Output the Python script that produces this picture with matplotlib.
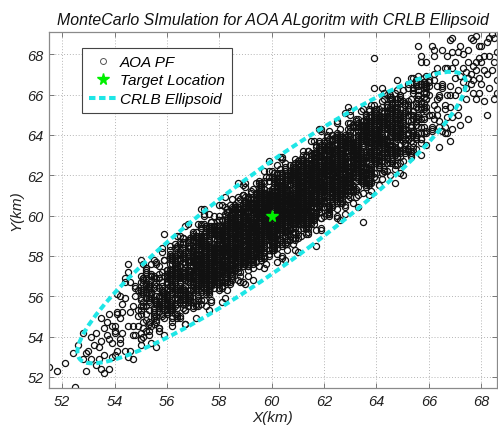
import numpy as np
import matplotlib
matplotlib.use('Agg')
import matplotlib.pyplot as plt
from matplotlib.patches import Ellipse
from matplotlib.lines import Line2D

# AOA particle-filter position estimates as (x, y) pairs, in tenths of km
# outer / sparse part of the cloud
pf_outer_xy_tenths = [
    515,525, 518,523, 525,515, 524,532, 528,542, 529,523, 528,529, 526,536, 521,527, 529,532,
    530,533, 531,529, 534,529, 535,524, 538,524, 536,522, 538,539, 539,537, 537,541, 533,542,
    535,549, 537,547, 532,536, 534,535, 536,531, 539,545, 531,540, 538,551, 535,538, 533,526,
    539,530, 536,544,
    543,552, 547,545, 541,561, 549,553, 545,572, 540,531, 548,560, 542,537, 546,552, 544,559,
    546,533, 542,560, 549,550, 544,567, 540,545, 547,529, 543,556, 548,541, 541,551, 545,545,
    548,565, 540,543, 545,576, 542,539, 547,555, 544,533, 549,563, 541,533, 546,567, 543,542,
    542,549, 545,530, 548,564, 540,542, 544,569, 547,541, 541,552, 549,545,
    553,557, 557,575, 551,540, 559,570, 555,558, 550,578, 558,555, 552,566, 556,535, 554,562,
    556,556, 552,573, 559,553, 554,559, 550,567, 557,544, 553,565, 558,560, 551,576, 555,551,
    558,567, 550,542, 555,554, 552,567, 557,564, 554,537, 559,578, 551,555, 556,569, 553,543,
    552,562, 555,578, 558,556, 550,551, 554,570, 557,552, 551,557, 559,591, 553,546, 556,567,
    550,536, 554,562, 557,554, 551,569, 559,562, 555,569, 552,543, 558,563, 556,577, 553,553,
    559,541, 551,563, 553,547, 556,565, 558,584, 552,551, 555,570, 557,559, 550,539, 554,571,
    563,569, 567,562, 561,580, 569,572, 565,549, 560,569, 568,580, 562,553, 566,571, 564,561,
    566,589, 562,562, 569,584, 564,551, 560,570, 567,561, 563,570, 568,596, 561,563, 565,557,
    568,581, 560,558, 565,583, 562,566, 567,546, 564,575, 569,558, 561,569, 566,587, 563,559,
    562,568, 565,558, 568,582, 560,561, 564,590, 567,553, 561,570, 569,572, 563,580, 566,561,
    560,560, 564,574, 567,568, 561,573, 569,559, 565,571, 562,545, 568,587, 566,564, 563,578,
    569,573, 561,556, 563,586, 566,558, 568,577, 562,549, 565,570, 567,595, 560,557, 564,581,
    565,565, 568,578, 562,555, 560,567, 567,546, 563,576, 569,571, 564,585, 561,557, 566,584,
    567,556, 563,574, 560,563, 565,590, 569,563, 561,569, 564,549, 568,584, 562,561, 566,580,
    564,569, 569,560, 561,581, 565,563, 560,566,
    574,600, 578,573, 570,582, 576,553, 572,578, 579,577, 575,594, 571,563, 577,580, 573,588,
    571,556, 575,585, 579,579, 573,596, 577,571, 570,577, 576,566, 572,569, 578,591, 574,579,
    577,558, 572,589, 574,576, 570,581, 579,567, 576,584, 573,594, 578,574, 575,574, 571,585,
    570,563, 579,583, 573,603, 577,568, 575,584, 571,555, 578,584, 574,569, 572,588, 576,577,
    576,588, 573,562, 578,581, 571,590, 574,572, 577,557, 570,580, 575,567, 579,586, 572,596,
    574,571, 578,591, 570,570, 576,563, 572,587, 579,584, 575,569, 571,589, 577,579, 573,556,
    571,579, 575,586, 579,569, 573,577, 577,573, 570,592, 576,575, 572,586, 578,564, 574,583,
    577,570, 572,578, 574,601, 570,571, 579,570, 576,588, 573,570, 578,595, 575,578, 571,549,
    570,580, 579,567, 573,580, 577,597, 575,570, 571,576, 578,570, 574,587, 572,572, 576,601,
    576,561, 573,581, 578,580, 571,587, 574,568, 577,576, 570,579, 575,555, 579,590, 572,566,
    574,603, 578,578, 570,578, 576,563, 572,586, 579,582, 575,566, 571,592, 577,573, 573,579,
    584,592, 588,586, 580,573, 586,601, 582,583, 589,596, 585,569, 581,605, 587,586, 583,595,
    581,572, 585,589, 589,583, 583,602, 587,593, 580,567, 586,595, 582,559, 588,590, 584,600,
    587,583, 582,593, 584,574, 580,580, 589,615, 586,591, 583,575, 588,596, 585,570, 581,594,
    580,578, 589,610, 583,578, 587,590, 585,574, 581,591, 588,595, 584,566, 582,583, 586,603,
    586,579, 583,587, 588,602, 581,567, 584,583, 587,599, 580,576, 585,608, 589,595, 582,573,
    584,593, 588,567, 580,577, 586,604, 582,584, 589,577, 585,596, 581,581, 587,602, 583,577,
    581,586, 585,568, 589,597, 583,573, 587,616, 580,583, 586,578, 582,595, 588,586, 584,579,
    587,607, 582,589, 584,571, 580,590, 589,590, 586,602, 583,563, 588,592, 585,597, 581,577,
    580,569, 589,595, 583,576, 587,609, 585,584, 581,590, 588,572, 584,598, 582,584, 586,577,
    586,604, 583,580, 588,593, 581,557, 584,595, 587,581, 580,605, 585,585, 589,597, 582,568,
    584,599, 588,589, 580,572, 586,593, 582,572, 589,610, 585,583, 581,593, 587,568, 583,586,
    581,576, 585,602, 589,577, 583,593, 587,572, 580,584, 586,579, 582,609, 588,587, 584,597,
    587,583, 582,588, 584,573, 580,589, 589,567, 586,587, 583,602, 588,585, 585,599, 581,564,
    590,594, 599,592, 593,608, 597,596, 595,617, 591,577, 598,605, 594,584, 592,593, 596,606,
    596,578, 593,606, 598,594, 591,609, 594,594, 597,574, 590,598, 595,583, 599,604, 592,587,
    594,606, 598,596, 590,616, 596,588, 592,595, 599,583, 595,604, 591,578, 597,613, 593,587,
    591,593, 595,575, 599,610, 593,590, 597,617, 590,579, 596,602, 592,583, 598,598, 594,608,
    597,582, 592,599, 594,593, 590,614, 599,592, 596,606, 593,568, 598,602, 595,591, 591,608,
    590,580, 599,600, 593,606, 597,580, 595,603, 591,589, 598,619, 594,586, 592,597, 596,584,
    596,591, 593,604, 598,601, 591,570, 594,609, 597,597, 590,599, 595,581, 599,605, 592,611,
    594,588, 598,595, 590,602, 596,587, 592,594, 599,627, 595,584, 591,598, 597,579, 593,597,
    591,584, 595,609, 599,598, 593,603, 597,584, 590,591, 596,613, 592,588, 598,576, 594,602,
    597,587, 592,597, 594,616, 590,585, 599,610, 596,594, 593,578, 598,611, 595,598, 591,583,
    590,606, 599,599, 593,574, 597,603, 595,604, 591,579, 598,600, 594,588, 592,612, 596,593,
    596,608, 593,577, 598,605, 591,582, 594,598, 597,622, 590,589, 595,584, 599,609, 592,587,
    594,609, 598,599, 590,566, 596,604, 592,578, 599,604, 595,613, 591,584, 597,600, 593,583,
    591,602, 595,593, 599,622, 593,576, 597,603, 590,590, 596,610, 592,584, 598,595, 594,601,
    607,601, 602,606, 604,613, 600,587, 609,610, 606,601, 603,621, 608,586, 605,608, 601,591,
    600,611, 609,607, 603,611, 607,590, 605,601, 601,616, 608,601, 604,629, 602,602, 606,592,
    606,612, 603,594, 608,620, 601,603, 604,580, 607,604, 600,610, 605,599, 609,626, 602,591,
    604,608, 608,589, 600,607, 606,605, 602,615, 609,601, 605,600, 601,621, 607,608, 603,588,
    601,610, 605,603, 609,597, 603,619, 607,610, 600,590, 606,612, 602,581, 608,604, 604,615,
    607,600, 602,625, 604,609, 600,584, 609,609, 606,620, 603,594, 608,610, 605,592, 601,609,
    600,597, 609,628, 603,597, 607,619, 605,578, 601,600, 608,618, 604,593, 602,606, 606,613,
    606,588, 603,598, 608,623, 601,593, 604,605, 607,593, 600,622, 605,603, 609,599, 602,608,
    604,617, 608,604, 600,609, 606,586, 602,605, 609,602, 605,623, 601,589, 607,607, 603,614,
    601,585, 605,610, 609,606, 603,629, 607,598, 600,608, 606,583, 602,604, 608,602, 604,620,
    607,594, 602,603, 604,614, 600,595, 609,621, 606,587, 603,607, 608,598, 605,626, 601,600,
    600,607, 609,594, 603,617, 607,599, 605,622, 601,599, 608,617, 604,579, 602,605, 606,595,
    606,612, 603,599, 608,621, 601,594, 604,628, 607,608, 600,583, 605,610, 609,597, 602,621,
    604,595, 608,608, 600,611, 606,600, 602,617, 609,588, 605,607, 601,587, 607,615, 603,600,
    616,612, 613,620, 618,603, 611,612, 614,592, 617,631, 610,603, 615,625, 619,618, 612,602,
    614,632, 618,605, 610,614, 616,598, 612,612, 619,642, 615,607, 611,623, 617,612, 613,618,
    611,599, 615,617, 619,593, 613,621, 617,614, 610,626, 616,607, 612,625, 618,602, 614,620,
    617,615, 612,632, 614,603, 610,613, 619,599, 616,627, 613,607, 618,627, 615,615, 611,597,
    610,625, 619,612, 613,614, 617,593, 615,622, 611,601, 618,643, 614,610, 612,616, 616,599,
    616,626, 613,612, 618,605, 611,628, 614,606, 617,619, 610,589, 615,623, 619,614, 612,624,
    614,619, 618,607, 610,607, 616,637, 612,597, 619,619, 615,606, 611,625, 617,611, 613,594,
    611,617, 615,618, 619,607, 613,622, 617,615, 610,582, 616,627, 612,605, 618,636, 614,610,
    617,624, 612,598, 614,615, 610,600, 619,632, 616,615, 613,596, 618,622, 615,637, 611,603,
    610,620, 619,614, 613,591, 617,622, 615,604, 611,613, 618,633, 614,601, 612,609, 616,624,
    616,600, 613,613, 618,637, 611,605, 614,605, 617,629, 610,608, 615,621, 619,599, 612,615,
    614,602, 618,634, 610,603, 616,625, 612,608, 619,594, 615,616, 611,622, 617,607, 613,618,
    611,596, 615,614, 619,643, 613,605, 617,631, 610,605, 616,598, 612,619, 618,615, 614,624,
    617,606, 612,614, 614,591, 610,627, 619,613,
    621,625, 625,619, 629,618, 623,634, 627,624, 620,623, 626,606, 622,642, 628,623, 624,632,
    627,614, 622,622, 624,614, 620,635, 629,631, 626,609, 623,628, 628,601, 625,623, 621,633,
    620,612, 629,636, 623,609, 627,623, 625,647, 621,622, 628,616, 624,628, 622,603, 626,635,
    626,620, 623,640, 628,619, 621,620, 624,609, 627,633, 620,623, 625,603, 629,626, 622,635,
    624,613, 628,628, 620,630, 626,608, 622,617, 629,637, 625,617, 621,640, 627,629, 623,610,
    621,626, 625,600, 629,622, 623,637, 627,625, 620,604, 626,633, 622,618, 628,639, 624,614,
    627,628, 622,601, 624,628, 620,606, 629,654, 626,625, 623,611, 628,637, 625,619, 621,612,
    620,636, 629,632, 623,606, 627,633, 625,622, 621,633, 628,604, 624,624, 622,630, 626,618,
    626,611, 623,625, 628,617, 621,639, 624,619, 627,632, 620,600, 625,635, 629,627, 622,609,
    624,638, 628,621, 620,621, 626,598, 622,629, 629,619, 625,646, 621,617, 627,631, 623,605,
    621,632, 625,622, 629,617, 623,626, 627,613, 620,637, 626,620, 622,630, 628,605, 624,623,
    627,618, 622,635, 624,608, 620,626, 629,610, 626,626, 623,612, 628,651, 625,620, 621,630,
    620,612, 629,631, 623,608, 627,632, 625,599,
    630,630, 639,628, 633,644, 637,632, 635,653, 631,613, 638,641, 634,620, 632,629, 636,642,
    636,614, 633,642, 638,630, 631,645, 634,630, 637,610, 630,634, 635,619, 639,640, 632,623,
    634,642, 638,632, 630,652, 636,624, 632,631, 639,619, 635,640, 631,614, 637,649, 633,623,
    631,629, 635,611, 639,646, 633,626, 637,653, 630,615, 636,638, 632,619, 638,634, 634,644,
    637,618, 632,635, 634,629, 630,650, 639,628, 636,642, 633,604, 638,638, 635,627, 631,644,
    630,616, 639,636, 633,642, 637,616, 635,639, 631,625, 638,655, 634,622, 632,633, 636,620,
    636,627, 633,640, 638,637, 631,606, 634,645, 637,633, 630,635, 635,617, 639,641, 632,647,
    634,624, 638,631, 630,638, 636,623, 632,630, 639,663, 635,620, 631,634, 637,615, 633,633,
    631,620, 635,645, 639,634, 633,639, 637,620, 630,627, 636,649, 632,624, 638,612, 634,638,
    637,623, 632,633, 634,652, 630,621, 639,646, 636,630, 633,614, 638,647, 635,634, 631,619,
    630,642, 639,635, 633,610, 637,639, 635,640, 631,615, 638,636, 634,624, 632,648, 636,629,
    644,634, 648,648, 640,645, 646,629, 642,639, 649,640, 645,659, 641,615, 647,646, 643,629,
    641,648, 645,639, 649,653, 643,622, 647,639, 640,651, 646,635, 642,663, 648,644, 644,626,
    647,649, 642,629, 644,652, 640,638, 649,621, 646,639, 643,649, 648,638, 645,658, 641,626,
    640,640, 649,626, 643,646, 647,642, 645,654, 641,629, 648,639, 644,660, 642,639, 646,627,
    646,651, 643,637, 648,632, 641,653, 644,643, 647,633, 640,642, 645,620, 649,641, 642,649,
    644,633, 648,667, 640,641, 646,626, 642,638, 649,659, 645,632, 641,639, 647,630, 643,647,
    641,634, 645,660, 649,639, 643,651, 647,616, 640,635, 646,652, 642,627, 648,648, 644,647,
    647,625, 642,633, 644,655, 640,628, 649,646, 646,628, 643,661, 648,642, 645,631, 641,643,
    640,649, 649,641, 643,648, 647,623, 645,644, 641,630, 648,662, 644,628, 642,638, 646,653,
    656,662, 653,631, 658,659, 651,636, 654,652, 657,676, 650,643, 655,638, 659,663, 652,641,
    654,663, 658,653, 650,620, 656,658, 652,632, 659,658, 655,667, 651,638, 657,654, 653,637,
    651,656, 655,647, 659,676, 653,630, 657,657, 650,644, 656,664, 652,638, 658,649, 654,655,
    657,641, 652,647, 654,661, 650,627, 659,661, 656,648, 653,668, 658,644, 655,654, 651,633,
    650,639, 659,664, 653,650, 657,630, 655,664, 651,645, 658,661, 654,634, 652,652, 656,669,
    656,644, 653,644, 658,664, 651,636, 654,650, 657,679, 650,633, 655,656, 659,635, 652,650,
    654,641, 658,666, 650,643, 656,660, 652,633,
    661,642, 665,664, 669,688, 663,650, 667,673, 660,650, 666,641, 662,670, 668,664, 664,647,
    667,679, 662,655, 664,634, 660,660, 669,673, 666,644, 663,658, 668,654, 665,682, 661,650,
    660,667, 669,643, 663,664, 667,649, 665,663, 661,684, 668,660, 664,644, 662,667, 666,653,
    666,673, 663,653, 668,687, 661,644, 664,660, 667,641, 660,664, 665,642, 669,681, 662,648,
    664,659, 668,637, 660,666, 666,655, 662,679, 669,649, 665,665, 661,643, 667,660, 663,673,
    678,689, 677,687, 678,672, 679,668, 677,661, 671,654, 671,650, 673,680, 675,676, 672,669,
    674,663, 676,670, 670,676, 672,684, 674,658, 676,665, 679,678, 673,673, 675,682, 677,667,
    670,668, 671,662, 678,658, 675,648, 672,645, 679,684, 676,688, 674,671, 670,660, 678,676,
    673,666, 677,674, 671,681, 679,661, 675,668,
    682,686, 683,663, 685,658, 681,679, 684,672, 686,681, 682,670, 680,665, 685,676, 683,688,
    681,657, 686,667, 680,684, 684,690, 682,650, 685,688, 681,672, 683,679, 686,661, 680,676,
    639,678, 656,684, 662,682, 635,597, 617,585, 609,583, 602,577,
]

# dense core of the cloud (narrow band)
pf_core_xy_tenths = [
    552,559, 557,555, 554,570, 559,561, 550,570, 555,550, 551,561, 558,562, 553,566, 556,548,
    558,563, 553,564, 556,556, 551,568, 559,556, 554,562, 550,539, 557,571, 552,555, 555,564,
    555,549, 550,562, 559,560, 552,574, 557,556, 553,559, 558,554, 551,569, 556,560, 554,545,
    551,566, 556,558, 553,563, 558,551, 554,561, 559,578, 555,553, 550,555, 557,544, 552,565,
    559,559, 554,570, 550,553, 555,566, 552,548, 558,582, 556,557, 553,561, 551,544, 557,569,
    562,565, 567,577, 564,559, 569,588, 560,560, 565,570, 561,553, 568,580, 563,551, 566,573,
    568,582, 563,562, 566,570, 561,572, 569,560, 564,572, 560,556, 567,582, 562,564, 565,586,
    565,563, 560,566, 569,563, 562,571, 567,568, 563,580, 568,557, 561,573, 566,569, 564,574,
    561,554, 566,579, 563,563, 568,573, 564,550, 569,585, 565,562, 560,567, 567,562, 562,580,
    569,577, 564,554, 560,571, 565,567, 562,576, 568,567, 566,586, 563,555, 561,565, 567,576,
    568,570, 563,574, 566,559, 561,568, 569,558, 564,578, 560,559, 567,572, 562,558, 565,582,
    565,569, 560,558, 569,578, 562,554, 567,579, 563,564, 568,588, 561,556, 566,572, 564,564,
    561,576, 566,563, 563,571, 568,555, 564,574, 569,572, 565,578, 560,551, 567,572, 562,580,
    569,563, 564,571, 560,559, 565,581, 562,564, 568,558, 566,577, 563,567, 561,583, 567,563,
    562,571, 567,560, 564,570, 569,567, 560,573, 565,550, 561,569, 568,569, 563,579, 566,563,
    575,580, 570,566, 579,593, 572,572, 577,595, 573,566, 578,586, 571,573, 576,587, 574,564,
    571,574, 576,585, 573,571, 578,593, 574,569, 579,585, 575,562, 570,582, 577,578, 572,579,
    579,571, 574,584, 570,569, 575,595, 572,569, 578,582, 576,570, 573,589, 571,573, 577,566,
    572,585, 577,577, 574,582, 579,570, 570,575, 575,592, 571,567, 578,581, 573,558, 576,587,
    578,576, 573,587, 576,577, 571,580, 579,573, 574,596, 570,569, 577,583, 572,563, 575,585,
    575,579, 570,567, 579,591, 572,560, 577,584, 573,575, 578,593, 571,566, 576,595, 574,574,
    571,564, 576,584, 573,576, 578,574, 574,590, 579,578, 575,586, 570,562, 577,582, 572,558,
    579,588, 574,575, 570,583, 575,573, 572,578, 578,568, 576,594, 573,568, 571,575, 577,574,
    572,586, 577,571, 574,581, 579,581, 570,591, 575,566, 571,581, 578,578, 573,585, 576,565,
    578,577, 573,590, 576,572, 571,576, 579,572, 574,582, 570,557, 577,592, 572,575, 575,573,
    575,576, 570,580, 579,571, 572,578, 577,565, 573,586, 578,576, 571,575, 576,571, 574,590,
    571,574, 576,573, 573,581, 578,569, 574,585, 579,579, 575,594, 570,564, 577,582, 572,571,
    579,593, 574,570, 570,577, 575,561, 572,581, 578,580, 576,588, 573,563, 571,575, 577,594,
    572,565, 577,583, 574,572, 579,594, 570,571, 575,564, 571,581, 578,581, 573,594, 576,571,
    578,586, 573,565, 576,581, 571,568, 579,591, 574,558, 570,577, 577,577, 572,587, 575,571,
    575,577, 570,579, 579,573, 572,590, 577,576, 573,577, 578,569, 571,582, 576,563, 574,580,
    581,593, 586,583, 583,585, 588,597, 584,573, 589,595, 585,579, 580,593, 587,587, 582,601,
    589,585, 584,588, 580,572, 585,592, 582,581, 588,603, 586,573, 583,593, 581,582, 587,595,
    582,573, 587,598, 584,582, 589,592, 580,564, 585,599, 581,576, 588,593, 583,576, 586,602,
    588,594, 583,571, 586,595, 581,581, 589,601, 584,581, 580,598, 587,577, 582,584, 585,592,
    585,589, 580,575, 589,602, 582,581, 587,604, 583,575, 588,595, 581,582, 586,596, 584,573,
    581,583, 586,594, 583,580, 588,602, 584,578, 589,594, 585,571, 580,591, 587,587, 582,588,
    589,580, 584,593, 580,578, 585,604, 582,578, 588,591, 586,579, 583,598, 581,582, 587,575,
    582,594, 587,586, 584,591, 589,579, 580,584, 585,601, 581,576, 588,590, 583,567, 586,596,
    588,585, 583,596, 586,586, 581,589, 589,582, 584,605, 580,578, 587,592, 582,572, 585,594,
    585,588, 580,576, 589,600, 582,569, 587,593, 583,584, 588,602, 581,575, 586,604, 584,583,
    581,573, 586,593, 583,585, 588,583, 584,599, 589,587, 585,595, 580,571, 587,591, 582,567,
    589,597, 584,584, 580,592, 585,582, 582,587, 588,577, 586,603, 583,577, 581,584, 587,583,
    582,595, 587,580, 584,590, 589,590, 580,600, 585,575, 581,590, 588,587, 583,594, 586,574,
    588,586, 583,599, 586,581, 581,585, 589,581, 584,591, 580,566, 587,601, 582,584, 585,582,
    585,585, 580,589, 589,580, 582,587, 587,574, 583,595, 588,585, 581,584, 586,580, 584,599,
    581,583, 586,582, 583,590, 588,578, 584,594, 589,588, 585,603, 580,573, 587,591, 582,580,
    589,602, 584,579, 580,586, 585,570, 582,590, 588,589, 586,597, 583,572, 581,584, 587,603,
    582,574, 587,592, 584,581, 589,603, 580,580, 585,573, 581,590, 588,590, 583,603, 586,580,
    588,595, 583,574, 586,590, 581,577, 589,600, 584,567, 580,586, 587,586, 582,596, 585,580,
    599,602, 594,588, 590,602, 595,593, 592,608, 598,589, 596,602, 593,593, 591,600, 597,585,
    592,593, 597,604, 594,590, 599,612, 590,583, 595,599, 591,576, 598,608, 593,592, 596,601,
    598,588, 593,601, 596,593, 591,609, 599,594, 594,596, 590,582, 597,611, 592,592, 595,582,
    595,606, 590,588, 599,605, 592,581, 597,600, 593,608, 598,592, 591,592, 596,579, 594,603,
    591,587, 596,608, 593,592, 598,605, 594,586, 599,619, 595,592, 590,594, 597,586, 592,600,
    599,601, 594,589, 590,600, 595,581, 592,597, 598,598, 596,609, 593,586, 591,608, 597,595,
    592,583, 597,603, 594,595, 599,593, 590,604, 595,592, 591,600, 598,588, 593,596, 596,580,
    598,605, 593,592, 596,607, 591,587, 599,603, 594,582, 590,606, 597,590, 592,594, 595,590,
    595,607, 590,582, 599,604, 592,592, 597,616, 593,582, 598,606, 591,589, 596,606, 594,581,
    591,588, 596,611, 593,587, 598,601, 594,585, 599,605, 595,580, 590,603, 597,598, 592,588,
    599,598, 594,602, 590,580, 595,599, 592,578, 598,609, 596,592, 593,595, 591,584, 597,611,
    592,593, 597,592, 594,600, 599,588, 590,599, 595,593, 591,608, 598,590, 593,596, 596,593,
    598,610, 593,587, 596,601, 591,575, 599,606, 594,594, 590,600, 597,585, 592,594, 595,610,
    595,586, 590,594, 599,595, 592,605, 597,596, 593,580, 598,606, 591,592, 596,615, 594,587,
    591,597, 596,586, 593,596, 598,593, 594,604, 599,581, 595,600, 590,588, 597,610, 592,586,
    599,599, 594,601, 590,582, 595,611, 592,589, 598,600, 596,585, 593,602, 591,576, 597,601,
    592,603, 597,593, 594,595, 599,607, 590,578, 595,600, 591,584, 598,610, 593,592, 596,614,
    598,593, 593,596, 596,587, 591,597, 599,597, 594,608, 590,576, 597,606, 592,592, 595,602,
    595,585, 590,600, 599,596, 592,594, 597,580, 593,606, 598,592, 591,595, 596,588, 594,609,
    591,596, 596,583, 593,601, 598,597, 594,605, 599,595, 595,612, 590,579, 597,598, 592,598,
    608,606, 603,610, 606,595, 601,604, 609,594, 604,614, 600,595, 607,608, 602,594, 605,618,
    605,605, 600,594, 609,614, 602,590, 607,615, 603,600, 608,624, 601,592, 606,608, 604,600,
    601,612, 606,599, 603,607, 608,591, 604,610, 609,608, 605,614, 600,587, 607,608, 602,616,
    609,599, 604,607, 600,595, 605,617, 602,600, 608,594, 606,613, 603,603, 601,619, 607,599,
    602,607, 607,596, 604,606, 609,603, 600,609, 605,586, 601,605, 608,605, 603,615, 606,599,
    608,607, 603,609, 606,597, 601,616, 609,605, 604,605, 600,588, 607,615, 602,586, 605,608,
    605,615, 600,595, 609,609, 602,609, 607,594, 603,607, 608,600, 601,612, 606,604, 604,621,
    601,595, 606,608, 603,593, 608,613, 604,601, 609,622, 605,590, 600,608, 607,606, 602,608,
    609,598, 604,613, 600,596, 605,606, 602,584, 608,620, 606,599, 603,606, 601,592, 607,621,
    602,606, 607,593, 604,611, 609,607, 600,610, 605,600, 601,617, 608,596, 603,603, 606,611,
    608,610, 603,596, 606,617, 601,598, 609,624, 604,594, 600,605, 607,606, 602,610, 605,592,
    605,605, 600,606, 609,604, 602,614, 607,599, 603,606, 608,592, 601,610, 606,604, 604,608,
    601,590, 606,613, 603,599, 608,625, 604,598, 609,610, 605,596, 600,613, 607,606, 602,588,
    609,619, 604,601, 600,605, 605,593, 602,604, 608,622, 606,599, 603,603, 601,583, 607,615,
    602,597, 607,618, 604,602, 609,615, 600,591, 605,624, 601,597, 608,611, 603,591, 606,613,
    608,609, 603,597, 606,615, 601,586, 609,613, 604,603, 600,612, 607,599, 602,618, 605,602,
    605,595, 600,605, 609,609, 602,595, 607,620, 603,599, 608,616, 601,590, 606,608, 604,587,
    601,607, 606,604, 603,613, 608,603, 604,607, 609,596, 605,620, 600,592, 607,608, 602,596,
    609,620, 604,595, 600,604, 605,604, 602,620, 608,596, 606,613, 603,600, 601,610, 607,593,
    602,598, 607,621, 604,597, 609,611, 600,590, 605,610, 601,585, 608,620, 603,603, 606,601,
    615,616, 610,602, 619,629, 612,608, 617,631, 613,602, 618,622, 611,609, 616,623, 614,600,
    611,610, 616,621, 613,607, 618,629, 614,605, 619,621, 615,598, 610,618, 617,614, 612,615,
    619,607, 614,620, 610,605, 615,631, 612,605, 618,618, 616,606, 613,625, 611,609, 617,602,
    612,621, 617,613, 614,618, 619,606, 610,611, 615,628, 611,603, 618,617, 613,594, 616,623,
    618,612, 613,623, 616,613, 611,616, 619,609, 614,632, 610,605, 617,619, 612,599, 615,621,
    615,615, 610,603, 619,627, 612,596, 617,620, 613,611, 618,629, 611,602, 616,631, 614,610,
    611,600, 616,620, 613,612, 618,610, 614,626, 619,614, 615,622, 610,598, 617,618, 612,594,
    619,624, 614,611, 610,619, 615,609, 612,614, 618,604, 616,630, 613,604, 611,611, 617,610,
    612,622, 617,607, 614,617, 619,617, 610,627, 615,602, 611,617, 618,614, 613,621, 616,601,
    618,613, 613,626, 616,608, 611,612, 619,608, 614,618, 610,593, 617,628, 612,611, 615,609,
    615,612, 610,616, 619,607, 612,614, 617,601, 613,622, 618,612, 611,611, 616,607, 614,626,
    611,610, 616,609, 613,617, 618,605, 614,621, 619,615, 615,630, 610,600, 617,618, 612,607,
    619,629, 614,606, 610,613, 615,597, 612,617, 618,616, 616,624, 613,599, 611,611, 617,630,
    612,601, 617,619, 614,608, 619,630, 610,607, 615,600, 611,617, 618,617, 613,630, 616,607,
    618,622, 613,601, 616,617, 611,604, 619,627, 614,594, 610,613, 617,613, 612,623, 615,607,
    615,613, 610,615, 619,609, 612,626, 617,612, 613,613, 618,605, 611,618, 616,599, 614,616,
    611,620, 616,610, 613,612, 618,624, 614,600, 619,622, 615,606, 610,620, 617,614, 612,628,
    619,612, 614,615, 610,599, 615,619, 612,608, 618,630, 616,600, 613,620, 611,609, 617,622,
    612,600, 617,625, 614,609, 619,619, 610,591, 615,626, 611,603, 618,620, 613,603, 616,629,
    621,623, 626,610, 623,628, 628,624, 624,632, 629,622, 625,639, 620,606, 627,625, 622,625,
    629,616, 624,631, 620,614, 625,624, 622,602, 628,638, 626,617, 623,624, 621,610, 627,639,
    622,614, 627,627, 624,612, 629,632, 620,615, 625,636, 621,604, 628,634, 623,620, 626,630,
    628,636, 623,616, 626,624, 621,626, 629,614, 624,626, 620,610, 627,636, 622,618, 625,640,
    625,622, 620,624, 629,618, 622,635, 627,621, 623,622, 628,614, 621,627, 626,608, 624,625,
    621,624, 626,613, 623,623, 628,620, 624,631, 629,608, 625,627, 620,615, 627,637, 622,613,
    629,617, 624,625, 620,613, 625,635, 622,618, 628,612, 626,631, 623,621, 621,637, 627,617,
    622,631, 627,618, 624,626, 629,610, 620,624, 625,622, 621,628, 628,613, 623,622, 626,638,
    628,626, 623,615, 626,629, 621,607, 629,635, 624,619, 620,634, 627,616, 622,622, 625,619,
    625,621, 620,625, 629,616, 622,623, 627,610, 623,631, 628,621, 621,620, 626,616, 624,635,
    621,615, 626,638, 623,614, 628,628, 624,612, 629,632, 625,607, 620,630, 627,625, 622,615,
    629,638, 624,613, 620,622, 625,622, 622,638, 628,614, 626,631, 623,618, 621,628, 627,611,
    622,626, 627,623, 624,632, 629,622, 620,621, 625,610, 621,634, 628,618, 623,622, 626,618,
    628,616, 623,626, 626,624, 621,612, 629,640, 624,618, 620,626, 627,614, 622,622, 625,606,
    625,624, 620,612, 629,636, 622,605, 627,629, 623,620, 628,638, 621,611, 626,640, 624,619,
    621,614, 626,635, 623,619, 628,632, 624,613, 629,646, 625,619, 620,621, 627,613, 622,627,
    629,637, 624,619, 620,623, 625,611, 622,622, 628,640, 626,617, 623,621, 621,601, 627,633,
    639,638, 634,624, 630,638, 635,629, 632,644, 638,625, 636,638, 633,629, 631,636, 637,621,
    632,629, 637,640, 634,626, 639,648, 630,619, 635,635, 631,612, 638,644, 633,628, 636,637,
    638,624, 633,637, 636,629, 631,645, 639,630, 634,632, 630,618, 637,647, 632,628, 635,618,
    635,642, 630,624, 639,641, 632,617, 637,636, 633,644, 638,628, 631,628, 636,615, 634,639,
    631,623, 636,644, 633,628, 638,641, 634,622, 639,655, 635,628, 630,630, 637,622, 632,636,
    639,637, 634,625, 630,636, 635,617, 632,633, 638,634, 636,645, 633,622, 631,644, 637,631,
    632,619, 637,639, 634,631, 639,629, 630,640, 635,628, 631,636, 638,624, 633,632, 636,616,
    638,641, 633,628, 636,643, 631,623, 639,639, 634,618, 630,642, 637,626, 632,630, 635,626,
    635,643, 630,618, 639,640, 632,628, 637,652, 633,618, 638,642, 631,625, 636,642, 634,617,
    631,624, 636,647, 633,623, 638,637, 634,621, 639,641, 635,616, 630,639, 637,634, 632,624,
    639,635, 634,637, 630,618, 635,647, 632,625, 638,636, 636,621, 633,638, 631,612, 637,637,
    632,639, 637,629, 634,631, 639,643, 630,614, 635,636, 631,620, 638,646, 633,628, 636,650,
    638,629, 633,632, 636,623, 631,633, 639,633, 634,644, 630,612, 637,642, 632,628, 635,638,
    635,621, 630,636, 639,632, 632,630, 637,616, 633,642, 638,628, 631,631, 636,624, 634,645,
    642,636, 647,650, 644,629, 649,648, 640,621, 645,651, 641,632, 648,645, 643,631, 646,655,
    648,644, 643,633, 646,647, 641,625, 649,653, 644,637, 640,652, 647,634, 642,640, 645,637,
    645,652, 640,629, 649,649, 642,621, 647,649, 643,638, 648,653, 641,624, 646,643, 644,654,
    641,627, 646,645, 643,634, 648,656, 644,638, 649,631, 645,648, 640,636, 647,661, 642,630,
    649,650, 644,629, 640,638, 645,635, 642,647, 648,625, 646,646, 643,636, 641,649, 647,636,
    642,637, 647,649, 644,631, 649,660, 640,632, 645,642, 641,625, 648,652, 643,623, 646,645,
    648,654, 643,634, 646,642, 641,644, 649,632, 644,644, 640,628, 647,654, 642,636, 645,658,
    645,635, 640,638, 649,635, 642,643, 647,640, 643,652, 648,629, 641,645, 646,641, 644,646,
    641,626, 646,651, 643,635, 648,645, 644,622, 649,657, 645,634, 640,639, 647,634, 642,652,
    649,649, 644,626, 640,643, 645,639, 642,648, 648,639, 646,658, 643,627, 641,637, 647,648,
    658,654, 653,642, 656,660, 651,631, 659,658, 654,648, 650,657, 657,644, 652,663, 655,647,
    655,640, 650,650, 659,654, 652,640, 657,665, 653,644, 658,661, 651,635, 656,653, 654,632,
    651,652, 656,649, 653,658, 658,648, 654,652, 659,641, 655,665, 650,637, 657,653, 652,641,
    659,665, 654,640, 650,649, 655,649, 652,665, 658,641, 656,658, 653,645, 651,655, 657,638,
]

# dense core of the cloud (wider band)
pf_core_wide_xy_tenths = [
    550,558, 555,552, 552,571, 557,560, 554,570, 559,549, 551,562, 556,550, 553,558, 558,572,
    557,543, 552,569, 559,559, 554,576, 551,555, 556,547, 553,565, 558,550, 550,559, 555,554,
    554,570, 559,561, 556,576, 551,547, 558,565, 553,541, 550,563, 555,546, 552,572, 557,555,
    563,568, 568,561, 565,579, 560,560, 566,589, 561,553, 569,578, 564,558, 567,570, 562,579,
    566,554, 561,571, 568,570, 563,580, 560,556, 565,578, 562,550, 567,574, 569,568, 564,584,
    560,553, 565,569, 562,578, 567,553, 564,575, 569,570, 561,585, 566,561, 563,571, 568,559,
    567,565, 562,576, 569,575, 564,556, 561,579, 566,569, 563,575, 568,557, 560,569, 565,587,
    564,561, 569,569, 566,581, 561,555, 568,573, 563,584, 560,552, 565,575, 562,547, 567,574,
    563,559, 568,585, 565,567, 560,573, 566,556, 561,565, 569,589, 564,563, 567,558, 562,573,
    576,568, 571,578, 578,592, 573,570, 570,583, 575,575, 572,559, 577,592, 579,584, 574,568,
    570,588, 575,577, 572,555, 577,585, 574,585, 579,569, 571,575, 576,572, 573,595, 578,577,
    577,591, 572,558, 579,588, 574,567, 571,577, 576,593, 573,574, 578,569, 570,582, 575,572,
    574,591, 579,582, 576,564, 571,581, 578,566, 573,580, 570,590, 575,570, 572,577, 577,569,
    573,586, 578,578, 575,590, 570,555, 576,584, 571,573, 579,595, 574,568, 577,576, 572,581,
    576,582, 571,566, 578,595, 573,574, 570,584, 575,563, 572,581, 577,569, 579,582, 574,586,
    570,554, 575,590, 572,570, 577,597, 574,576, 579,568, 571,581, 576,566, 573,580, 578,575,
    577,591, 572,572, 579,597, 574,568, 571,576, 576,562, 573,584, 578,567, 570,588, 575,571,
    574,578, 579,571, 576,589, 571,570, 578,600, 573,564, 570,578, 575,568, 572,574, 577,593,
    583,569, 588,596, 585,585, 580,595, 586,580, 581,592, 589,575, 584,589, 587,584, 582,600,
    586,577, 581,583, 588,602, 583,567, 580,589, 585,584, 582,604, 587,580, 589,595, 584,573,
    580,576, 585,597, 582,586, 587,577, 584,600, 589,590, 581,591, 586,573, 583,590, 588,608,
    587,582, 582,580, 589,602, 584,576, 581,584, 586,605, 583,573, 588,596, 580,563, 585,590,
    584,578, 589,604, 586,586, 581,592, 588,576, 583,585, 580,598, 585,582, 582,571, 587,596,
    583,574, 588,594, 585,598, 580,576, 586,598, 581,580, 589,575, 584,598, 587,591, 582,575,
    586,603, 581,582, 588,570, 583,590, 580,590, 585,574, 582,585, 587,582, 589,610, 584,582,
    580,593, 585,570, 582,590, 587,579, 584,589, 589,605, 581,581, 586,576, 583,594, 588,584,
    587,603, 582,584, 589,576, 584,593, 581,568, 586,592, 583,602, 588,582, 580,584, 585,576,
    584,596, 589,588, 586,600, 581,565, 588,595, 583,584, 580,595, 585,578, 582,580, 587,595,
    583,582, 588,598, 585,573, 580,584, 586,577, 581,598, 589,585, 584,597, 587,589, 582,575,
    596,616, 591,580, 598,604, 593,577, 590,592, 595,610, 592,586, 597,611, 599,596, 594,601,
    590,580, 595,599, 592,578, 597,607, 594,593, 599,617, 591,584, 596,611, 593,579, 598,606,
    597,597, 592,604, 599,590, 594,599, 591,573, 596,609, 593,589, 598,609, 590,592, 595,583,
    594,611, 599,594, 596,599, 591,579, 598,607, 593,585, 590,607, 595,593, 592,598, 597,582,
    593,605, 598,599, 595,584, 590,609, 596,590, 591,595, 599,580, 594,604, 597,594, 592,606,
    596,603, 591,582, 598,597, 593,606, 590,577, 595,597, 592,585, 597,613, 599,595, 594,577,
    590,598, 595,600, 592,582, 597,608, 594,594, 599,583, 591,604, 596,591, 593,613, 598,596,
    597,606, 592,580, 599,602, 594,586, 591,606, 596,597, 593,578, 598,604, 590,604, 595,589,
    594,606, 599,596, 596,586, 591,598, 598,589, 593,597, 590,607, 595,584, 592,591, 597,607,
    593,579, 598,600, 595,616, 590,586, 596,589, 591,605, 599,599, 594,602, 597,579, 592,597,
    596,586, 591,609, 598,593, 593,604, 590,588, 595,582, 592,595, 597,610, 599,591, 594,601,
    590,577, 595,596, 592,608, 597,591, 594,610, 599,596, 591,575, 596,605, 593,592, 598,610,
    607,610, 602,594, 609,623, 604,602, 601,612, 606,591, 603,609, 608,597, 600,600, 605,614,
    604,585, 609,621, 606,601, 601,618, 608,607, 603,589, 600,607, 605,592, 602,606, 607,601,
    603,614, 608,605, 605,620, 600,591, 606,608, 601,584, 609,617, 604,590, 607,622, 602,595,
    606,607, 601,590, 608,618, 603,599, 600,619, 605,593, 602,607, 607,597, 609,608, 604,617,
    600,584, 605,611, 602,600, 607,620, 604,596, 609,618, 601,585, 606,609, 603,598, 608,624,
    607,596, 602,602, 609,621, 604,586, 601,608, 606,603, 603,623, 608,599, 600,604, 605,592,
    604,598, 609,619, 606,608, 601,589, 608,622, 603,602, 600,608, 605,590, 602,607, 607,625,
    603,596, 608,604, 605,616, 600,590, 606,607, 601,618, 609,597, 604,610, 607,588, 602,605,
    606,598, 601,614, 608,606, 603,612, 600,586, 605,605, 602,618, 607,602, 609,596, 604,611,
    600,589, 605,609, 602,613, 607,601, 604,614, 609,606, 601,585, 606,618, 603,605, 608,599,
    607,622, 602,601, 609,589, 604,609, 601,609, 606,593, 603,604, 608,601, 600,619, 605,601,
    604,615, 609,592, 606,612, 601,591, 608,611, 603,617, 600,598, 605,593, 602,611, 607,601,
    613,626, 618,617, 615,599, 610,616, 616,600, 611,614, 619,635, 614,605, 617,618, 612,600,
    616,625, 611,607, 618,629, 613,594, 610,614, 615,613, 612,624, 617,607, 619,614, 614,619,
    610,606, 615,622, 612,597, 617,618, 614,602, 619,633, 611,604, 616,626, 613,612, 618,608,
    617,635, 612,599, 619,623, 614,596, 611,611, 616,629, 613,605, 618,630, 610,605, 615,620,
    614,602, 619,621, 616,600, 611,619, 618,615, 613,629, 610,601, 615,628, 612,596, 617,623,
    613,611, 618,628, 615,604, 610,613, 616,596, 611,622, 619,613, 614,623, 617,617, 612,598,
    616,631, 611,604, 618,619, 613,599, 610,617, 615,605, 612,627, 617,613, 619,623, 614,597,
    610,620, 615,614, 612,599, 617,634, 614,606, 619,621, 611,590, 616,624, 613,608, 618,630,
    617,622, 612,601, 619,616, 614,625, 611,596, 616,616, 613,604, 618,632, 610,604, 615,596,
    614,620, 619,622, 616,604, 611,620, 618,616, 613,595, 610,621, 615,608, 612,630, 617,613,
    613,620, 618,604, 615,616, 610,600, 616,629, 611,610, 619,602, 614,618, 617,629, 612,604,
    616,626, 611,606, 618,606, 613,618, 610,599, 615,617, 612,627, 617,604, 619,616, 614,622,
    620,621, 625,615, 622,634, 627,623, 624,633, 629,612, 621,625, 626,613, 623,621, 628,635,
    627,606, 622,632, 629,622, 624,639, 621,618, 626,610, 623,628, 628,613, 620,622, 625,617,
    624,633, 629,624, 626,639, 621,610, 628,628, 623,604, 620,626, 625,609, 622,635, 627,618,
    623,622, 628,615, 625,633, 620,614, 626,643, 621,607, 629,632, 624,612, 627,624, 622,633,
    626,608, 621,625, 628,624, 623,634, 620,610, 625,632, 622,604, 627,628, 629,622, 624,638,
    620,607, 625,623, 622,632, 627,607, 624,629, 629,624, 621,639, 626,615, 623,625, 628,613,
    627,619, 622,630, 629,629, 624,610, 621,633, 626,623, 623,629, 628,611, 620,623, 625,641,
    624,615, 629,623, 626,635, 621,609, 628,627, 623,638, 620,606, 625,629, 622,601, 627,628,
    623,613, 628,639, 625,621, 620,627, 626,610, 621,619, 629,643, 624,617, 627,612, 622,627,
    626,613, 621,623, 628,637, 623,615, 620,628, 625,620, 622,604, 627,637, 629,629, 624,613,
    620,633, 625,622, 622,600, 627,630, 624,630, 629,614, 621,620, 626,617, 623,640, 628,622,
    637,645, 632,612, 639,642, 634,621, 631,631, 636,647, 633,628, 638,623, 630,636, 635,626,
    634,645, 639,636, 636,618, 631,635, 638,620, 633,634, 630,644, 635,624, 632,631, 637,623,
    633,640, 638,632, 635,644, 630,609, 636,638, 631,627, 639,649, 634,622, 637,630, 632,635,
    636,630, 631,636, 638,621, 633,632, 630,616, 635,647, 632,623, 637,645, 639,636, 634,622,
    630,646, 635,620, 632,634, 637,617, 634,632, 639,650, 631,621, 636,646, 633,626, 638,641,
    637,623, 632,632, 639,621, 634,640, 631,626, 636,650, 633,622, 638,649, 630,612, 635,639,
    634,630, 639,647, 636,623, 631,632, 638,616, 633,642, 630,622, 635,642, 632,630, 637,621,
    633,646, 638,629, 635,634, 630,614, 636,641, 631,619, 639,652, 634,628, 637,639, 632,613,
    636,644, 631,628, 638,623, 633,648, 630,620, 635,635, 632,609, 637,643, 639,632, 634,644,
    630,633, 635,622, 632,627, 637,646, 634,617, 639,637, 631,620, 636,648, 633,625, 638,617,
    644,647, 649,649, 646,631, 641,647, 648,643, 643,622, 640,648, 645,635, 642,657, 647,640,
    643,647, 648,631, 645,643, 640,627, 646,656, 641,637, 649,629, 644,645, 647,656, 642,631,
    646,653, 641,633, 648,633, 643,645, 640,626, 645,644, 642,654, 647,631, 649,643, 644,649,
    640,651, 645,640, 642,618, 647,648, 644,648, 649,632, 641,638, 646,635, 643,658, 648,640,
    647,654, 642,621, 649,651, 644,630, 641,640, 646,656, 643,637, 648,632, 640,645, 645,635,
    644,654, 649,645, 646,627, 641,644, 648,629, 643,643, 640,653, 645,633, 642,640, 647,632,
    643,649, 648,641, 645,653, 640,618, 646,647, 641,636, 649,658, 644,631, 647,639, 642,644,
    646,645, 641,629, 648,658, 643,637, 640,647, 645,626, 642,644, 647,632, 649,645, 644,649,
    653,629, 658,665, 655,645, 650,662, 656,650, 651,632, 659,661, 654,636, 657,656, 652,641,
    656,662, 651,643, 658,668, 653,639, 650,647, 655,633, 652,655, 657,638, 659,669, 654,642,
    650,646, 655,639, 652,657, 657,648, 654,668, 659,642, 651,651, 656,641, 653,647, 658,666,
    657,636, 652,653, 659,652, 654,662, 651,638, 656,660, 653,632, 658,656, 650,640, 655,666,
]

target_x = [60.0]
target_y = [60.0]

crlb_center = (60.0, 59.9)
crlb_semi_major = 10.15
crlb_semi_minor = 2.05
crlb_angle_deg = 44.2

x_ticks = [52, 54, 56, 58, 60, 62, 64, 66, 68]
y_ticks = [52, 54, 56, 58, 60, 62, 64, 66, 68]

title_text = 'MonteCarlo SImulation for AOA ALgoritm with CRLB Ellipsoid'
legend_labels = ['AOA PF', 'Target Location', 'CRLB Ellipsoid']

pf = np.array(pf_outer_xy_tenths + pf_core_xy_tenths + pf_core_wide_xy_tenths,
              dtype=float).reshape(-1, 2) / 10.0
pf_x, pf_y = pf[:, 0], pf[:, 1]

plt.rcParams['font.family'] = ['Liberation Sans', 'DejaVu Sans']
plt.rcParams['font.style'] = 'italic'

cyan = '#1ee6e6'
green = '#00f000'

fig = plt.figure(figsize=(4.98, 4.27), dpi=100)
ax = fig.add_axes([0.0984, 0.089, 0.8996, 0.8337])

ax.set_xlim(51.5, 68.6)
ax.set_ylim(51.45, 69.1)
ax.set_xticks(x_ticks)
ax.set_yticks(y_ticks)
ax.grid(True, linestyle=(0, (1, 2)), color='#b5b5b5', linewidth=0.7)
ax.set_axisbelow(True)

pf_line, = ax.plot(pf_x, pf_y, 'o', ms=4.4, mfc='none', mec='#111111', mew=0.9,
                   label=legend_labels[0], zorder=2)

ell = Ellipse(crlb_center, width=2 * crlb_semi_major, height=2 * crlb_semi_minor,
              angle=crlb_angle_deg, fill=False, edgecolor=cyan, linewidth=2.9,
              linestyle=(0, (1.6, 0.9)), zorder=3)
ax.add_patch(ell)

tgt_line, = ax.plot(target_x, target_y, '*', ms=8.5, color=green, mec=green,
                    label=legend_labels[1], zorder=4)

ell_proxy = Line2D([], [], color=cyan, linewidth=2.9, linestyle=(0, (1.6, 0.9)))
pf_proxy = Line2D([], [], marker='o', ls='none', ms=4.3, mfc='none', mec='#555555', mew=0.7)

ax.tick_params(direction='in', top=True, right=True, length=3.5, width=0.6,
               color='#666666', labelsize=10.5, labelcolor='#222222', pad=4)
for sp in ax.spines.values():
    sp.set_color('#8a8a8a')
    sp.set_linewidth(0.9)

ax.set_xlabel('X(km)', fontsize=11, color='#222222', labelpad=2)
ax.set_ylabel('Y(km)', fontsize=11, color='#222222', labelpad=3)
ax.set_title(title_text, fontsize=11.4, color='#111111', pad=6)

leg = ax.legend([pf_proxy, tgt_line, ell_proxy], legend_labels,
                loc='upper left', bbox_to_anchor=(0.0737, 0.955), borderaxespad=0,
                fontsize=11, frameon=True, fancybox=False, framealpha=1,
                edgecolor='#444444', handlelength=1.8, handletextpad=0.25,
                borderpad=0.45, labelspacing=0.3, markerscale=1.0)
leg.get_frame().set_linewidth(0.8)

fig.savefig('out.png', dpi=100)
